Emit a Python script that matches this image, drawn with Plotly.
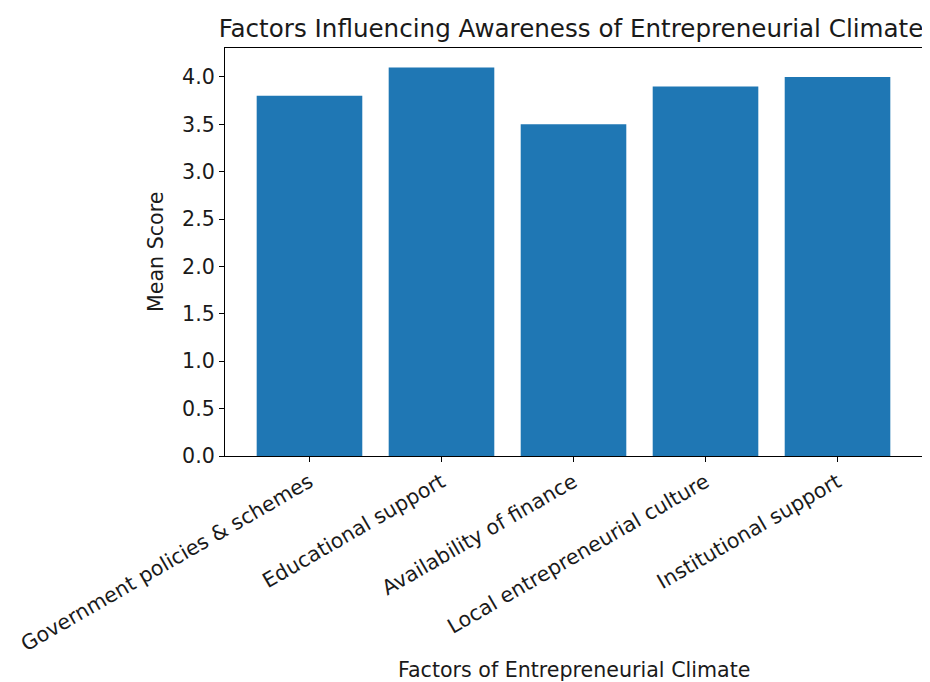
import plotly.graph_objects as go

categories = ["Government policies & schemes", "Educational support", "Availability of finance",
              "Local entrepreneurial culture", "Institutional support"]
mean_scores = [3.8, 4.1, 3.5, 3.9, 4.0]
y_ticks = [0.0, 0.5, 1.0, 1.5, 2.0, 2.5, 3.0, 3.5, 4.0]

# page body has an 8px margin, so the figure is 8px smaller and shifted
OFF = 8
W, H = 930 - OFF, 682 - OFF
L, T = 225 - OFF, 48 - OFF
R = W - (922 - OFF)
B = H - (456 - OFF)
PW, PH = W - L - R, H - T - B

TXT = "#1a1a1a"
FAM = "DejaVu Sans"
FS = 20.6

fig = go.Figure(go.Bar(x=categories, y=mean_scores, width=0.8,
                       marker=dict(color="#1f77b4", line=dict(width=0))))

fig.update_layout(
    width=W, height=H,
    margin=dict(l=L, r=R, t=T, b=B, autoexpand=False),
    plot_bgcolor="white", paper_bgcolor="white",
    font=dict(family=FAM, size=FS, color=TXT),
    showlegend=False,
    title=dict(text="Factors Influencing Awareness of Entrepreneurial Climate",
               x=(571 - OFF) / W, xanchor="center", xref="container",
               y=1 - (28 - OFF) / H, yanchor="middle", yref="container",
               font=dict(family=FAM, size=24.6, color=TXT)),
)
fig.update_xaxes(range=[-0.64, 4.64], showline=True, linecolor="black", linewidth=1,
                 mirror=True, ticks="outside", ticklen=5, tickcolor="black",
                 tickangle=-30, showgrid=False, tickfont=dict(size=FS, family=FAM, color=TXT))
fig.update_yaxes(range=[0, 4.305], tickvals=y_ticks, ticktext=[f"{v:.1f}" for v in y_ticks],
                 showline=True, linecolor="black", linewidth=1, mirror=True,
                 ticks="outside", ticklen=5, tickcolor="black", showgrid=False, zeroline=False,
                 tickfont=dict(size=FS, family=FAM, color=TXT))

fig.add_annotation(text="Factors of Entrepreneurial Climate", xref="paper", yref="paper",
                   x=0.5, y=-(670 - 456) / PH, xanchor="center", yanchor="middle",
                   showarrow=False, font=dict(size=FS, family=FAM, color=TXT))
fig.add_annotation(text="Mean Score", xref="paper", yref="paper",
                   x=-(225 - 156) / PW, y=0.5, xanchor="center", yanchor="middle",
                   textangle=-90, showarrow=False,
                   font=dict(size=FS, family=FAM, color=TXT))

fig.write_html("out.html")
